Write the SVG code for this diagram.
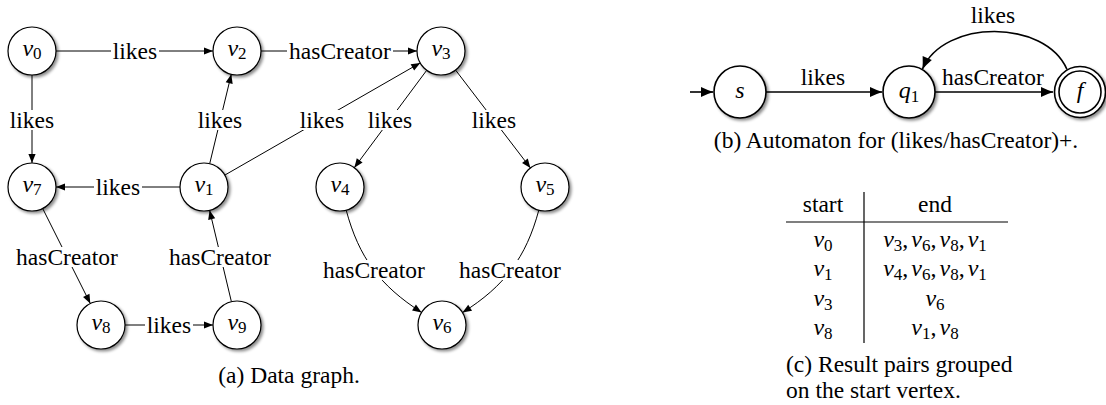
<svg xmlns="http://www.w3.org/2000/svg" width="1106" height="405" viewBox="0 0 1106 405">
  <style>
    text { font-family: "Liberation Serif", "Times New Roman", serif; fill: #000; }
    .lbl { font-size: 23.5px; text-anchor: middle; }
    .cap { font-size: 23.5px; }
    .nv { font-size: 24px; font-style: italic; text-anchor: middle; }
    .s { font-size: 17px; font-style: normal; }
    .c { font-style: normal; }
    .nd circle { fill: #fff; stroke: #000; stroke-width: 1.2; filter: url(#sh); }
    .an circle { fill: #fff; stroke: #000; stroke-width: 1.6; filter: url(#sh); }
    .an circle.inner { filter: none; }
    .e { fill: none; stroke: #000; stroke-width: 1; marker-end: url(#ah); }
    .ae { fill: none; stroke: #000; stroke-width: 1.6; marker-end: url(#ah2); }
    .bg { fill: #fff; }
    .rule { stroke: #000; stroke-width: 1.2; }
  </style>
  <defs>
    <filter id="sh" x="-30%" y="-30%" width="170%" height="170%">
      <feDropShadow dx="2" dy="2" stdDeviation="1.4" flood-color="#000" flood-opacity="0.45"/>
    </filter>
    <marker id="ah" viewBox="-10 -5 11 10" refX="0" refY="0" markerWidth="11" markerHeight="10" orient="auto" markerUnits="userSpaceOnUse">
      <path d="M0,0 L-9,-3.6 L-9,3.6 Z" fill="#000"/>
    </marker>
    <marker id="ah2" viewBox="-13 -6 14 12" refX="0" refY="0" markerWidth="14" markerHeight="12" orient="auto" markerUnits="userSpaceOnUse">
      <path d="M0.5,0 Q-5,-1.6 -12,-5 L-12,5 Q-5,1.6 0.5,0 Z" fill="#000"/>
    </marker>
  </defs>

  <!-- (a) data graph: edges and their labels -->
  <g id="connectors">
    <path class="e" d="M56,51 L213,51"/>
    <path class="e" d="M261,51 L417,51"/>
    <path class="e" d="M32,75 L32,163"/>
    <path class="e" d="M209.7,163.7 L231.3,74.3"/>
    <path class="e" d="M224.8,175.1 L420.2,62.9"/>
    <path class="e" d="M426.7,70.3 L354.3,167.7"/>
    <path class="e" d="M455.6,70.1 L530.4,167.9"/>
    <path class="e" d="M180,187 L56,187"/>
    <path class="e" d="M42.7,208.5 L90.3,303.5"/>
    <path class="e" d="M231.4,301.7 L209.6,210.3"/>
    <path class="e" d="M125,325 L213,325"/>
    <path class="e" d="M346.2,210.2 C358.9,257.5 379.9,285.7 421.6,312.4"/>
    <path class="e" d="M538.8,210.2 C526.1,257.5 504.4,286.3 462.5,312.6"/>

    <g id="edge-labels">
      <rect class="bg" x="111" y="41" width="48" height="20"/><text class="lbl" x="135" y="58.5">likes</text>
      <rect class="bg" x="287" y="41" width="106" height="20"/><text class="lbl" x="340" y="58.5">hasCreator</text>
      <rect class="bg" x="8" y="110" width="48" height="20"/><text class="lbl" x="32" y="127.5">likes</text>
      <rect class="bg" x="196" y="110" width="48" height="20"/><text class="lbl" x="220" y="127.5">likes</text>
      <rect class="bg" x="298" y="110" width="48" height="20"/><text class="lbl" x="322" y="127.5">likes</text>
      <rect class="bg" x="366" y="110" width="48" height="20"/><text class="lbl" x="390" y="127.5">likes</text>
      <rect class="bg" x="470" y="110" width="48" height="20"/><text class="lbl" x="494" y="127.5">likes</text>
      <rect class="bg" x="94" y="177" width="48" height="20"/><text class="lbl" x="118" y="194.5">likes</text>
      <rect class="bg" x="14" y="247" width="106" height="20"/><text class="lbl" x="67" y="264.5">hasCreator</text>
      <rect class="bg" x="167" y="247" width="106" height="20"/><text class="lbl" x="220" y="264.5">hasCreator</text>
      <rect class="bg" x="145" y="315" width="48" height="20"/><text class="lbl" x="169" y="332.5">likes</text>
      <rect class="bg" x="321" y="260" width="106" height="20"/><text class="lbl" x="374" y="277.5">hasCreator</text>
      <rect class="bg" x="457" y="260" width="106" height="20"/><text class="lbl" x="510" y="277.5">hasCreator</text>
    </g>
  </g>

  <!-- (a) data graph: vertices -->
  <g id="v0" class="nd"><circle cx="32" cy="51" r="24"/><text class="nv" x="32" y="55.5">v<tspan class="s" dy="3.5">0</tspan></text></g>
  <g id="v2" class="nd"><circle cx="237" cy="51" r="24"/><text class="nv" x="237" y="55.5">v<tspan class="s" dy="3.5">2</tspan></text></g>
  <g id="v3" class="nd"><circle cx="441" cy="51" r="24"/><text class="nv" x="441" y="55.5">v<tspan class="s" dy="3.5">3</tspan></text></g>
  <g id="v7" class="nd"><circle cx="32" cy="187" r="24"/><text class="nv" x="32" y="191.5">v<tspan class="s" dy="3.5">7</tspan></text></g>
  <g id="v1" class="nd"><circle cx="204" cy="187" r="24"/><text class="nv" x="204" y="191.5">v<tspan class="s" dy="3.5">1</tspan></text></g>
  <g id="v4" class="nd"><circle cx="340" cy="187" r="24"/><text class="nv" x="340" y="191.5">v<tspan class="s" dy="3.5">4</tspan></text></g>
  <g id="v5" class="nd"><circle cx="545" cy="187" r="24"/><text class="nv" x="545" y="191.5">v<tspan class="s" dy="3.5">5</tspan></text></g>
  <g id="v8" class="nd"><circle cx="101" cy="325" r="24"/><text class="nv" x="101" y="329.5">v<tspan class="s" dy="3.5">8</tspan></text></g>
  <g id="v9" class="nd"><circle cx="237" cy="325" r="24"/><text class="nv" x="237" y="329.5">v<tspan class="s" dy="3.5">9</tspan></text></g>
  <g id="v6" class="nd"><circle cx="442" cy="325" r="24"/><text class="nv" x="442" y="329.5">v<tspan class="s" dy="3.5">6</tspan></text></g>

  <text class="cap" x="289" y="383" text-anchor="middle">(a) Data graph.</text>

  <!-- (b) automaton -->
  <g id="automaton-edges">
    <path class="ae" d="M690,92 L713,92"/>
    <path class="ae" d="M766,92 L882,92"/>
    <path class="ae" d="M935,92 L1053,92"/>
    <path class="ae" d="M1067,69.5 C1045,19 944,19 922.5,69"/>
    <text class="lbl" x="823" y="85">likes</text>
    <text class="lbl" x="993" y="85">hasCreator</text>
    <text class="lbl" x="993" y="23">likes</text>
  </g>
  <g id="s" class="an"><circle cx="740" cy="92" r="26"/><text class="nv" x="740" y="98">s</text></g>
  <g id="q1" class="an"><circle cx="909" cy="92" r="26"/><text class="nv" x="909" y="98">q<tspan class="s" dy="4">1</tspan></text></g>
  <g id="f" class="an"><circle cx="1080" cy="92" r="25.5"/><circle class="inner" cx="1080" cy="92" r="21"/><text class="nv" x="1080" y="98">f</text></g>

  <text class="cap" x="896" y="148" text-anchor="middle">(b) Automaton for (likes/hasCreator)+.</text>

  <!-- (c) result table -->
  <g id="result-table">
    <line class="rule" x1="864" y1="192" x2="864" y2="343"/>
    <line class="rule" x1="786" y1="222" x2="1008" y2="222"/>
    <text class="lbl" x="823" y="212">start</text>
    <text class="lbl" x="935" y="212">end</text>

    <text class="nv" x="823" y="247">v<tspan class="s" dy="4">0</tspan></text>
    <text class="nv" x="823" y="276">v<tspan class="s" dy="4">1</tspan></text>
    <text class="nv" x="823" y="306">v<tspan class="s" dy="4">3</tspan></text>
    <text class="nv" x="823" y="335">v<tspan class="s" dy="4">8</tspan></text>

    <text class="nv" x="935" y="247">v<tspan class="s" dy="4">3</tspan><tspan class="c" dy="-4">,</tspan><tspan dx="3">v</tspan><tspan class="s" dy="4">6</tspan><tspan class="c" dy="-4">,</tspan><tspan dx="3">v</tspan><tspan class="s" dy="4">8</tspan><tspan class="c" dy="-4">,</tspan><tspan dx="3">v</tspan><tspan class="s" dy="4">1</tspan></text>
    <text class="nv" x="935" y="276">v<tspan class="s" dy="4">4</tspan><tspan class="c" dy="-4">,</tspan><tspan dx="3">v</tspan><tspan class="s" dy="4">6</tspan><tspan class="c" dy="-4">,</tspan><tspan dx="3">v</tspan><tspan class="s" dy="4">8</tspan><tspan class="c" dy="-4">,</tspan><tspan dx="3">v</tspan><tspan class="s" dy="4">1</tspan></text>
    <text class="nv" x="935" y="306">v<tspan class="s" dy="4">6</tspan></text>
    <text class="nv" x="935" y="335">v<tspan class="s" dy="4">1</tspan><tspan class="c" dy="-4">,</tspan><tspan dx="3">v</tspan><tspan class="s" dy="4">8</tspan></text>
  </g>

  <text class="cap" x="786" y="372">(c) Result pairs grouped</text>
  <text class="cap" x="786" y="398">on the start vertex.</text>
</svg>
